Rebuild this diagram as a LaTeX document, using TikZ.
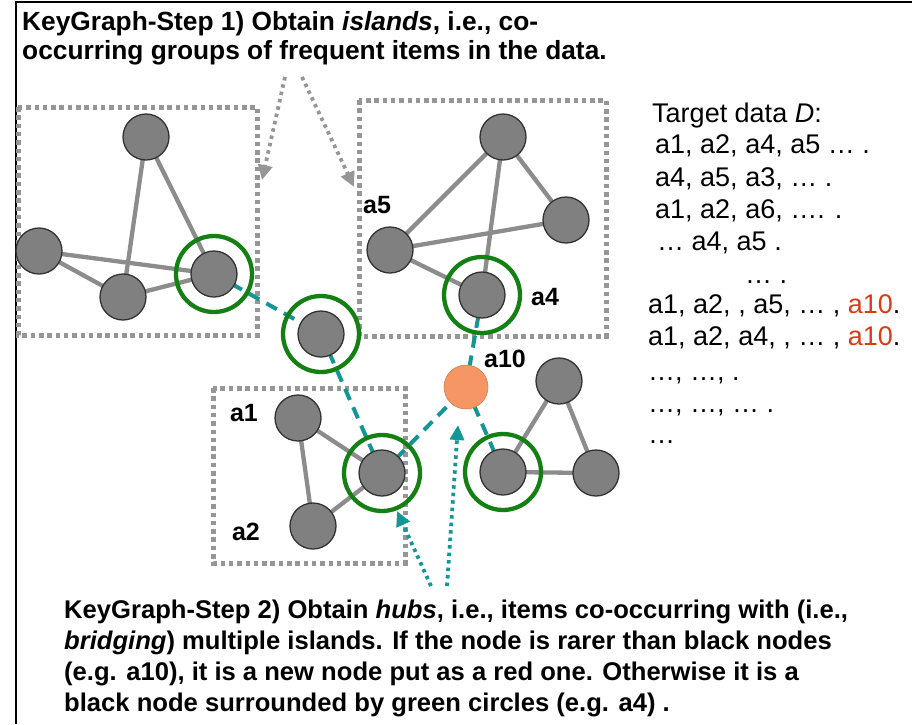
\documentclass[tikz,border=0pt]{standalone}
\usepackage{fontspec}
\setmainfont{Liberation Sans}
\usetikzlibrary{arrows.meta}
\definecolor{nodegray}{RGB}{128,128,128}
\definecolor{nodeborder}{RGB}{50,50,50}
\definecolor{edgegray}{RGB}{140,140,140}
\definecolor{boxgray}{RGB}{150,150,150}
\definecolor{ringgreen}{RGB}{20,128,20}
\definecolor{tealc}{RGB}{20,150,150}
\definecolor{orangenode}{RGB}{245,150,100}
\definecolor{redtext}{RGB}{215,60,20}
\begin{document}
\begin{tikzpicture}[x=1pt,y=-1pt,
  gnode/.style={circle,fill=nodegray,draw=nodeborder,line width=1.3pt,minimum size=46pt,inner sep=0pt},
  onode/.style={circle,fill=orangenode,draw=orangenode!85!black,line width=0.6pt,minimum size=44pt,inner sep=0pt},
  hubring/.style={circle,draw=ringgreen,line width=4.3pt,minimum size=76pt,inner sep=0pt},
  iedge/.style={draw=edgegray,line width=4.3pt},
  bridge/.style={draw=tealc,line width=4pt,dash pattern=on 12pt off 8pt},
  islandbox/.style={draw=boxgray,line width=5pt,dash pattern=on 4.5pt off 3.8pt},
  gdots/.style={draw=boxgray,line width=3.8pt,dash pattern=on 3.5pt off 4pt,-{Triangle[length=15pt,width=14pt]}},
  tdots/.style={draw=tealc,line width=3.8pt,dash pattern=on 3.5pt off 4pt,-{Triangle[length=15pt,width=14pt]}},
  lab/.style={font=\fontsize{25}{27}\selectfont\bfseries,inner sep=0pt},
  datatxt/.style={font=\fontsize{27}{30}\selectfont,anchor=base west,inner sep=0pt},
  titletxt/.style={font=\fontsize{26.3}{30}\selectfont\bfseries,anchor=base west,inner sep=0pt},
  foottxt/.style={font=\fontsize{25.6}{30}\selectfont\bfseries,anchor=base west,inner sep=0pt}
]
\useasboundingbox (0,0) rectangle (912,724);
\fill[white] (0,0) rectangle (912,724);
% frame
\draw[black,line width=1.5pt] (16,724) -- (16,2) -- (912,2);

% title
\node[titletxt] (title1) at (22,30) {KeyGraph-Step 1) Obtain \textit{islands}, i.e., co-};
\node[titletxt] (title2) at (22,59) {occurring groups of frequent items in the data.};

% island boxes
\draw[islandbox] (18,107) rectangle (257,335);
\draw[islandbox] (359,100) rectangle (606,336);
\draw[islandbox] (213,388) rectangle (405,563);

% node coordinates
\coordinate (pt1) at (146,137);
\coordinate (pl1) at (39,251);
\coordinate (pm1) at (123,297);
\coordinate (ph1) at (214,274);
\coordinate (ph0) at (321,334);
\coordinate (pt2) at (503,137);
\coordinate (pr2) at (566,220);
\coordinate (pa5) at (390,250);
\coordinate (pa4) at (482,295);
\coordinate (pa10) at (466,387);
\coordinate (pt4) at (559,381);
\coordinate (ph4) at (503,472);
\coordinate (pr4) at (596,473);
\coordinate (pa1) at (298,418);
\coordinate (pa2) at (313,526);
\coordinate (ph3) at (382,473);

% island edges
\draw[iedge] (pt1) -- (pm1);
\draw[iedge] (pt1) -- (ph1);
\draw[iedge] (pl1) -- (ph1);
\draw[iedge] (pl1) -- (pm1);
\draw[iedge] (pm1) -- (ph1);
\draw[iedge] (pt2) -- (pa5);
\draw[iedge] (pt2) -- (pr2);
\draw[iedge] (pt2) -- (pa4);
\draw[iedge] (pa5) -- (pr2);
\draw[iedge] (pa5) -- (pa4);
\draw[iedge] (pt4) -- (ph4);
\draw[iedge] (pt4) -- (pr4);
\draw[iedge] (ph4) -- (pr4);
\draw[iedge] (pa1) -- (pa2);
\draw[iedge] (pa1) -- (ph3);
\draw[iedge] (pa2) -- (ph3);

% bridges
\draw[bridge] (ph1) -- (ph0);
\draw[bridge] (ph0) -- (ph3);
\draw[bridge] (ph3) -- (pa10);
\draw[bridge] (pa10) -- (pa4);
\draw[bridge] (pa10) -- (ph4);

% nodes
\node[gnode] (t1) at (pt1) {};
\node[gnode] (l1) at (pl1) {};
\node[gnode] (m1) at (pm1) {};
\node[gnode] (h1) at (ph1) {};
\node[gnode] (h0) at (ph0) {};
\node[gnode] (t2) at (pt2) {};
\node[gnode] (r2) at (pr2) {};
\node[gnode] (a5) at (pa5) {};
\node[gnode] (a4) at (pa4) {};
\node[onode] (a10) at (pa10) {};
\node[gnode] (t4) at (pt4) {};
\node[gnode] (h4) at (ph4) {};
\node[gnode] (r4) at (pr4) {};
\node[gnode] (a1) at (pa1) {};
\node[gnode] (a2) at (pa2) {};
\node[gnode] (h3) at (ph3) {};

% green rings
\node[hubring] (ring1) at (ph1) {};
\node[hubring] (ring0) at (ph0) {};
\node[hubring] (ring4) at (pa4) {};
\node[hubring] (ring5) at (ph4) {};
\node[hubring] (ring3) at (ph3) {};

% labels
\node[lab] (la5) at (377,205) {a5};
\node[lab] (la4) at (545,297) {a4};
\node[lab] (la10) at (505,359) {a10};
\node[lab] (la1) at (244,413) {a1};
\node[lab] (la2) at (246,532) {a2};

% arrows from title
\coordinate (ga1) at (285,77);
\coordinate (gb1) at (262,180);
\coordinate (ga2) at (302,77);
\coordinate (gb2) at (354,187);
\draw[gdots] (ga1) -- (gb1);
\draw[gdots] (ga2) -- (gb2);

% arrows from bottom text
\coordinate (ta1) at (431,586);
\coordinate (tb1) at (397,511);
\coordinate (ta2) at (447,586);
\coordinate (tb2) at (458,425);
\draw[tdots] (ta1) -- (tb1);
\draw[tdots] (ta2) -- (tb2);

% target data
\node[datatxt] (d0) at (652,122) {Target data \textit{D}:};
\node[datatxt] (d1) at (655,153) {a1, a2, a4, a5 … .};
\node[datatxt] (d2) at (655,186) {a4, a5, a3, … .};
\node[datatxt] (d3) at (655,218) {a1, a2, a6, …. .};
\node[datatxt] (d4) at (657,250) {… a4, a5 .};
\node[datatxt] (d5) at (745,283) {… .};
\node[datatxt] (d6) at (648,313) {a1, a2, , a5, … , \textcolor{redtext}{a10}.};
\node[datatxt] (d7) at (648,345) {a1, a2, a4, , … , \textcolor{redtext}{a10}.};
\node[datatxt] (d8) at (648,380) {…, …, .};
\node[datatxt] (d9) at (648,412) {…, …, … .};
\node[datatxt] (d10) at (648,443) {…};

% bottom text
\node[foottxt] (f1) at (64,618) {KeyGraph-Step 2) Obtain \textit{hubs}, i.e., items co-occurring with (i.e.,};
\node[foottxt] (f2) at (64,649) {\textit{bridging}) multiple islands. If the node is rarer than black nodes};
\node[foottxt] (f3) at (64,680) {(e.g. a10), it is a new node put as a red one. Otherwise it is a};
\node[foottxt] (f4) at (64,711) {black node surrounded by green circles (e.g. a4) .};
\end{tikzpicture}
\end{document}
